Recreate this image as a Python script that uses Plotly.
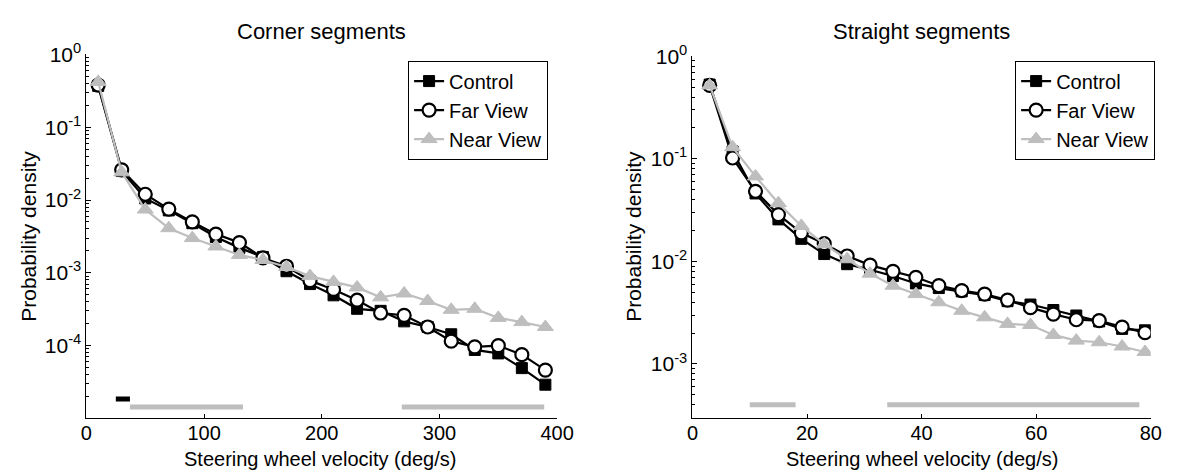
import math
import plotly.graph_objects as go

# ---------------- data ----------------
corner_x = [10, 30, 50, 70, 90, 110, 130, 150, 170, 190,
            210, 230, 250, 270, 290, 310, 330, 350, 370, 390]
corner_control = [0.37, 0.025, 0.0105, 0.0072, 0.0048, 0.0031, 0.0022, 0.00165, 0.00105, 0.0007,
                  0.00049, 0.00032, 0.0003, 0.000215, 0.00018, 0.000143, 0.000087, 0.000078, 0.000049, 0.000029]
corner_far = [0.38, 0.026, 0.012, 0.0075, 0.005, 0.0034, 0.0026, 0.0016, 0.00123, 0.00078,
              0.00059, 0.00042, 0.00028, 0.00026, 0.00018, 0.000115, 0.000096, 0.0001, 0.000075, 0.000046]
corner_near = [0.42, 0.024, 0.0074, 0.0041, 0.003, 0.0023, 0.00176, 0.0015, 0.0012, 0.0009,
               0.00075, 0.00063, 0.00046, 0.00052, 0.00041, 0.00031, 0.00032, 0.00024, 0.00021, 0.00018]

straight_x = [3, 7, 11, 15, 19, 23, 27, 31, 35, 39,
              43, 47, 51, 55, 59, 63, 67, 71, 75, 79]
straight_control = [0.53, 0.118, 0.046, 0.0257, 0.0166, 0.0118, 0.0094, 0.0083, 0.0072, 0.0061,
                    0.0055, 0.0051, 0.0047, 0.0041, 0.0038, 0.00336, 0.00297, 0.0026, 0.0022, 0.00213]
straight_far = [0.52, 0.102, 0.0483, 0.0286, 0.019, 0.0149, 0.0113, 0.0092, 0.008, 0.0070,
                0.0058, 0.0052, 0.0048, 0.0042, 0.00354, 0.00306, 0.0027, 0.00265, 0.00229, 0.00202]
straight_near = [0.52, 0.13, 0.0675, 0.037, 0.0222, 0.0147, 0.0105, 0.0076, 0.0058, 0.0048,
                 0.0040, 0.0033, 0.00285, 0.00246, 0.0024, 0.00192, 0.00169, 0.00163, 0.00148, 0.00131]

# significance bars (start, end) and their level
corner_bars_black = [(25, 37)]
corner_bars_black_level = 1.85e-5
corner_bars_gray = [(37, 133), (268, 389)]
corner_bars_gray_level = 1.43e-5
straight_bars_gray = [(10, 18), (34, 78)]
straight_bars_gray_level = 4.0e-4

series_names = ["Control", "Far View", "Near View"]
corner_xticks = [0, 100, 200, 300, 400]
straight_xticks = [0, 20, 40, 60, 80]
corner_yticks = [1, 1e-1, 1e-2, 1e-3, 1e-4]
straight_yticks = [1, 1e-1, 1e-2, 1e-3]

# ---------------- style ----------------
W, H = 1191, 472
FONT = "Liberation Sans, Arial, Helvetica, sans-serif"
GRAY = "#bebebe"

def px_x(p):
    return p / W

def px_y(p):
    return 1 - p / H

def tick_text(v):
    e = int(round(math.log10(v)))
    return "10<sup>%d</sup>" % e

styles = [
    dict(line=dict(color="black", width=2.2),
         marker=dict(symbol="square", size=11, color="black", line=dict(color="black", width=1))),
    dict(line=dict(color="black", width=2.2),
         marker=dict(symbol="circle", size=13, color="white", line=dict(color="black", width=2.2))),
    dict(line=dict(color=GRAY, width=2.2),
         marker=dict(symbol="triangle-up", size=14, color=GRAY, line=dict(color=GRAY, width=1))),
]

fig = go.Figure()

def bars_xy(bars, level):
    xs, ys = [], []
    for a, b in bars:
        xs += [a, b, None]
        ys += [level, level, None]
    return xs, ys

# left panel
for name, ys, st in zip(series_names, [corner_control, corner_far, corner_near], styles):
    fig.add_trace(go.Scatter(x=corner_x, y=ys, name=name, mode="lines+markers",
                             xaxis="x", yaxis="y", legend="legend", **st))
bx, by = bars_xy(corner_bars_black, corner_bars_black_level)
fig.add_trace(go.Scatter(x=bx, y=by, mode="lines", line=dict(color="black", width=5),
                         showlegend=False, xaxis="x", yaxis="y", hoverinfo="skip"))
bx, by = bars_xy(corner_bars_gray, corner_bars_gray_level)
fig.add_trace(go.Scatter(x=bx, y=by, mode="lines", line=dict(color=GRAY, width=5),
                         showlegend=False, xaxis="x", yaxis="y", hoverinfo="skip"))

# right panel
for name, ys, st in zip(series_names, [straight_control, straight_far, straight_near], styles):
    fig.add_trace(go.Scatter(x=straight_x, y=ys, name=name, mode="lines+markers",
                             xaxis="x2", yaxis="y2", legend="legend2", **st))
bx, by = bars_xy(straight_bars_gray, straight_bars_gray_level)
fig.add_trace(go.Scatter(x=bx, y=by, mode="lines", line=dict(color=GRAY, width=5),
                         showlegend=False, xaxis="x2", yaxis="y2", hoverinfo="skip"))

axis_common = dict(showline=True, linecolor="black", linewidth=1, showgrid=False, zeroline=False,
                   ticks="inside", tickcolor="black", tickwidth=1, mirror=False)

minor_log = dict(ticks="inside", ticklen=3, tickcolor="black", tickwidth=1, dtick="D1", showgrid=False)

fig.update_layout(
    width=W, height=H,
    margin=dict(l=0, r=0, t=0, b=0),
    paper_bgcolor="white", plot_bgcolor="white",
    font=dict(family=FONT, color="black", size=21),
    xaxis=dict(domain=[px_x(82), px_x(562)], range=[0, 400], tickvals=corner_xticks,
               ticklen=4, tickfont=dict(size=20), ticklabelstandoff=-3, anchor="y", **axis_common),
    yaxis=dict(domain=[px_y(416.7), px_y(41.7)], type="log", range=[-5, 0],
               tickvals=corner_yticks, ticktext=[tick_text(v) for v in corner_yticks],
               ticklen=5, tickfont=dict(size=21), minor=minor_log, anchor="x", **axis_common),
    xaxis2=dict(domain=[px_x(700), px_x(1167.3)], range=[0, 80], tickvals=straight_xticks,
                ticklen=4, tickfont=dict(size=20), ticklabelstandoff=-3, anchor="y2", **axis_common),
    yaxis2=dict(domain=[px_y(416.7), px_y(43.6)], type="log", range=[-3.53, 0],
                tickvals=straight_yticks, ticktext=[tick_text(v) for v in straight_yticks],
                ticklen=5, tickfont=dict(size=21), minor=minor_log, anchor="x2", **axis_common),
    legend=dict(x=px_x(410), y=px_y(48), xanchor="left", yanchor="top",
                bgcolor="white", bordercolor="black", borderwidth=1,
                font=dict(size=20, family=FONT), tracegroupgap=0, itemwidth=30),
    legend2=dict(x=px_x(1029), y=px_y(48), xanchor="left", yanchor="top",
                 bgcolor="white", bordercolor="black", borderwidth=1,
                 font=dict(size=20, family=FONT), tracegroupgap=0, itemwidth=30),
    showlegend=True,
)

ann = [
    dict(text="Corner segments", x=px_x(322), y=px_y(18), size=22, angle=0),
    dict(text="Straight segments", x=px_x(933.6), y=px_y(18), size=22, angle=0),
    dict(text="Steering wheel velocity (deg/s)", x=px_x(320), y=px_y(459), size=20, angle=0),
    dict(text="Steering wheel velocity (deg/s)", x=px_x(933.6), y=px_y(459), size=20, angle=0),
    dict(text="Probability density", x=px_x(23), y=px_y(229), size=21, angle=-90),
    dict(text="Probability density", x=px_x(640), y=px_y(229), size=21, angle=-90),
]
for a in ann:
    fig.add_annotation(text=a["text"], x=a["x"], y=a["y"], xref="paper", yref="paper",
                       xanchor="center", yanchor="middle", showarrow=False,
                       textangle=a["angle"], font=dict(size=a["size"], family=FONT, color="black"))

fig.write_html("out.html")
